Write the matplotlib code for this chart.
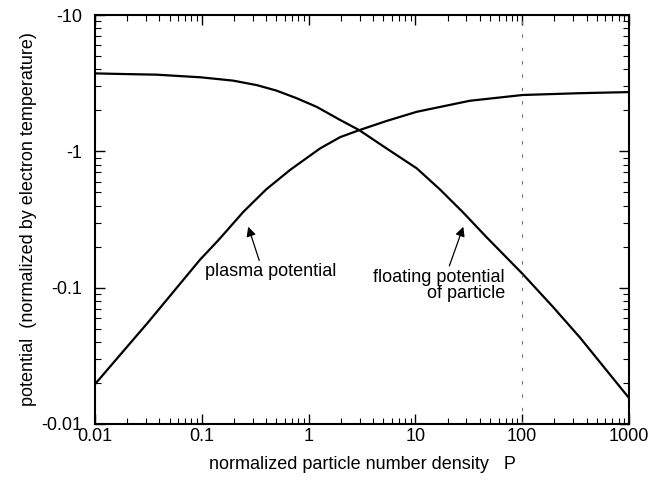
import matplotlib
matplotlib.use("Agg")
import matplotlib.pyplot as plt
from matplotlib.ticker import FixedLocator, LogLocator, NullFormatter

plt.rcParams['font.family'] = ['Liberation Sans', 'DejaVu Sans']

# Data (magnitudes of the normalized potentials)
plasma_density = [0.01, 0.0316, 0.096, 0.143, 0.245, 0.4, 0.67, 1.28, 1.97, 2.98,
                  5.37, 10.3, 32.4, 101, 348, 1000]
plasma_potential = [0.0196, 0.056, 0.16, 0.223, 0.36, 0.525, 0.73, 1.05, 1.27, 1.43,
                    1.67, 1.95, 2.35, 2.59, 2.67, 2.72]

floating_density = [0.01, 0.0184, 0.0379, 0.098, 0.197, 0.327, 0.50, 0.775, 1.19, 1.97,
                    2.98, 5.37, 10.3, 17, 28.1, 46.5, 101, 195, 348, 1000]
floating_potential = [3.73, 3.69, 3.65, 3.49, 3.30, 3.06, 2.79, 2.45, 2.12, 1.70,
                      1.43, 1.05, 0.75, 0.525, 0.355, 0.234, 0.126, 0.072, 0.043, 0.0155]

x_ticks = [0.01, 0.1, 1, 10, 100, 1000]
x_tick_labels = ['0.01', '0.1', '1', '10', '100', '1000']
y_ticks = [0.01, 0.1, 1, 10]
y_tick_labels = ['-0.01', '-0.1', '-1', '-10']

fig = plt.figure(figsize=(6.52, 4.80), dpi=100)
ax = fig.add_axes([95/652, 1 - 424/480, (629 - 95)/652, (424 - 15)/480])

ax.plot(plasma_density, plasma_potential, color='black', lw=1.6)
ax.plot(floating_density, floating_potential, color='black', lw=1.6)

ax.set_xscale('log')
ax.set_yscale('log')
ax.set_xlim(0.01, 1000)
ax.set_ylim(0.01, 10)

ax.xaxis.set_major_locator(FixedLocator(x_ticks))
ax.set_xticklabels(x_tick_labels)
ax.yaxis.set_major_locator(FixedLocator(y_ticks))
ax.set_yticklabels(y_tick_labels)
ax.xaxis.set_minor_locator(LogLocator(base=10, subs=range(2, 10)))
ax.yaxis.set_minor_locator(LogLocator(base=10, subs=range(2, 10)))
ax.xaxis.set_minor_formatter(NullFormatter())
ax.yaxis.set_minor_formatter(NullFormatter())

ax.tick_params(which='both', direction='in', top=True, right=True, colors='black',
               labelsize=13)
ax.tick_params(which='major', length=7, width=1.0)
ax.tick_params(which='minor', length=4, width=0.8)
ax.tick_params(axis='x', pad=3)
ax.tick_params(axis='y', pad=9)
for s in ax.spines.values():
    s.set_linewidth(1.5)

ax.axvline(100, color='0.45', lw=0.8, ls=(0, (3, 9)))

ax.set_xlabel('normalized particle number density   P', fontsize=13, labelpad=8)
ax.set_ylabel('potential  (normalized by electron temperature)', fontsize=13, labelpad=3)

ax.annotate('plasma potential', xy=(0.272, 0.28), xytext=(0.107, 0.131),
            fontsize=13, ha='left', va='center',
            arrowprops=dict(arrowstyle='-|>', color='black', lw=0.9,
                            mutation_scale=14, shrinkA=0, shrinkB=0,
                            relpos=(0.42, 1.0)))
ax.annotate('floating potential\nof particle', xy=(28.1, 0.28), xytext=(69, 0.138),
            fontsize=13, ha='right', va='top', multialignment='right',
            linespacing=0.95,
            arrowprops=dict(arrowstyle='-|>', color='black', lw=0.9,
                            mutation_scale=14, shrinkA=0, shrinkB=0,
                            relpos=(0.57, 1.0)))

fig.savefig('out.png', dpi=100)
